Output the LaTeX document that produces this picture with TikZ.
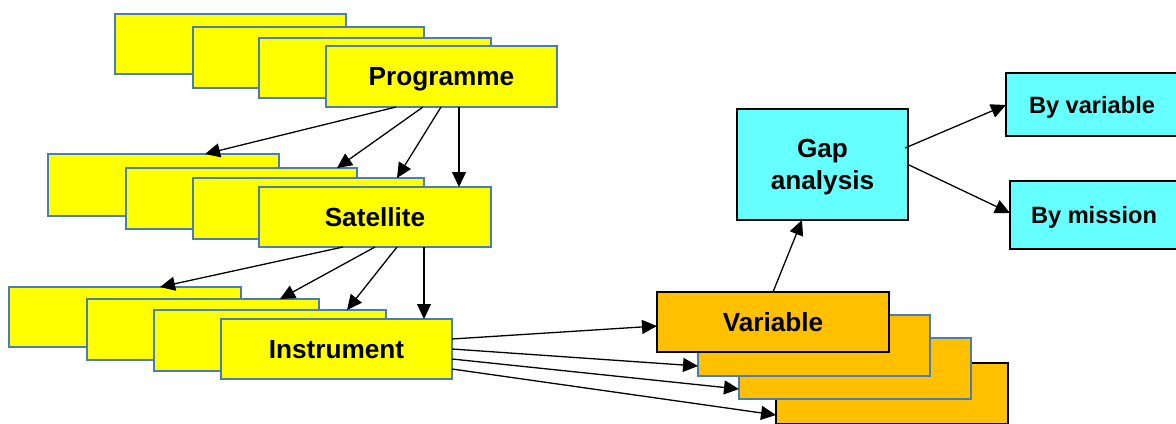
\documentclass[tikz,border=0pt]{standalone}
\usepackage{fontspec}
\setmainfont{Liberation Sans}
\usetikzlibrary{arrows.meta,calc}
\definecolor{yel}{HTML}{FFFF00}
\definecolor{org}{HTML}{FFC000}
\definecolor{cyn}{HTML}{66FFFF}
\definecolor{bdr}{HTML}{4A7DB5}
\newcommand{\mkbox}[7]{%
  \node[#1, minimum width={(#5-#3)*0.5pt}, minimum height={(#6-#4)*0.5pt}] (#2) at ({(#3+#5)/2},{(#4+#6)/2}) {#7};}
\begin{document}
\begin{tikzpicture}[x=0.5pt,y=-0.5pt,
  basebox/.style={rectangle, inner sep=0pt, outer sep=0pt, line width=1pt, font=\bfseries\fontsize{13.1}{16}\selectfont, align=center, text depth=0pt},
  oneline/.style={text height=9.4pt},
  ybox/.style={basebox, oneline, fill=yel, draw=bdr},
  obox/.style={basebox, oneline, fill=org, draw=black},
  obbox/.style={basebox, oneline, fill=org, draw=bdr},
  cbox/.style={basebox, fill=cyn, draw=black},
  csmall/.style={cbox, text height=8.5pt, font=\bfseries\fontsize{11.8}{14}\selectfont},
  arr/.style={line width=0.65pt, -{Triangle[length=7.5pt,width=7pt]}}]
\useasboundingbox (0,0) rectangle (1176,423);
\clip (0,0) rectangle (1176,423);
% Programme group
\mkbox{ybox}{P1}{115}{14}{346}{74}{}
\mkbox{ybox}{P2}{193}{27}{424}{88}{}
\mkbox{ybox}{P3}{259}{38}{491}{98}{}
\mkbox{ybox}{P4}{326}{46}{557}{107}{Programme}
% Satellite group
\mkbox{ybox}{S1}{48}{154}{279}{216}{}
\mkbox{ybox}{S2}{126}{168}{357}{229}{}
\mkbox{ybox}{S3}{193}{178}{424}{239}{}
\mkbox{ybox}{S4}{259}{187}{491}{247}{Satellite}
% Instrument group
\mkbox{ybox}{I1}{9}{287}{241}{347}{}
\mkbox{ybox}{I2}{87}{299}{319}{360}{}
\mkbox{ybox}{I3}{154}{310}{386}{371}{}
\mkbox{ybox}{I4}{221}{319}{452}{379}{Instrument}
% Variable group
\mkbox{obox}{V4}{776}{363}{1008}{424}{}
\mkbox{obbox}{V3}{739}{338}{971}{399}{}
\mkbox{obbox}{V2}{698}{315}{930}{376}{}
\mkbox{obox}{V1}{657}{292}{889}{352}{Variable}
% Gap analysis
\mkbox{cbox}{G}{737}{109}{908}{220}{Gap\\analysis}
\mkbox{csmall}{BV}{1006}{73}{1178}{136}{By variable}
\mkbox{csmall}{BM}{1010}{181}{1178}{249}{By mission}
% Programme -> Satellite
\draw[arr] ($(P4.south west)+(70,0)$) -- ($(S1.north west)+(157,0)$);
\draw[arr] ($(P4.south west)+(97,0)$) -- ($(S2.north west)+(211,0)$);
\draw[arr] ($(P4.south west)+(115,0)$) -- ($(S3.north west)+(204,0)$);
\draw[arr] ($(P4.south west)+(133,0)$) -- ($(S4.north west)+(200,0)$);
% Satellite -> Instrument
\draw[arr] ($(S4.south west)+(84,0)$) -- ($(I1.north west)+(151,0)$);
\draw[arr] ($(S4.south west)+(116,0)$) -- ($(I2.north west)+(193,0)$);
\draw[arr] ($(S4.south west)+(138,0)$) -- ($(I3.north west)+(193,0)$);
\draw[arr] ($(S4.south west)+(165,0)$) -- ($(I4.north west)+(203,0)$);
% Instrument -> Variable
\draw[arr] ($(I4.north east)+(0,20)$) -- ($(V1.north west)+(0,34)$);
\draw[arr] ($(I4.north east)+(0,30)$) -- ($(V2.north west)+(0,51)$);
\draw[arr] ($(I4.north east)+(0,40)$) -- ($(V3.north west)+(0,51)$);
\draw[arr] ($(I4.north east)+(0,50)$) -- ($(V4.north west)+(0,52)$);
% Variable -> Gap
\draw[arr] ($(V1.north west)+(116,0)$) -- ($(G.south west)+(65,0)$);
% Gap -> outputs
\draw[arr] ($(G.north east)+(-3,39)$) -- ($(BV.north west)+(0,32)$);
\draw[arr] ($(G.north east)+(1,56)$) -- ($(BM.north west)+(0,32)$);
\end{tikzpicture}
\end{document}
